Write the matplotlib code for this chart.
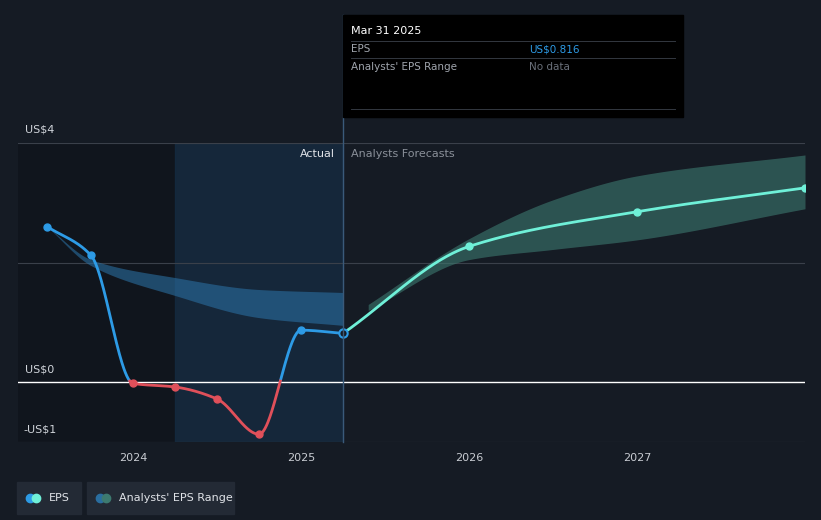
import numpy as np
import matplotlib.pyplot as plt
from matplotlib.patches import Rectangle

eps_t = [2023.49, 2023.75, 2024.0, 2024.25, 2024.5, 2024.75, 2025.0, 2025.25]
eps_v = [2.6, 2.12, -0.02, -0.08, -0.28, -0.87, 0.87, 0.816]
fc_t = [2025.25, 2026.0, 2027.0, 2028.0]
fc_v = [0.816, 2.27, 2.85, 3.25]
past_rng_t = [2023.49, 2023.75, 2024.25, 2024.75, 2025.25]
past_hi = [2.6, 2.05, 1.75, 1.55, 1.5]
past_lo = [2.6, 1.95, 1.45, 1.08, 0.95]
fc_rng_t = [2025.4, 2026.0, 2026.5, 2027.0, 2028.0]
fc_hi = [1.3, 2.4, 3.05, 3.45, 3.8]
fc_lo = [1.2, 2.05, 2.22, 2.38, 2.9]

def pchip(x, y, xn):
    x = np.asarray(x, float); y = np.asarray(y, float)
    h = np.diff(x); d = np.diff(y) / h
    m = np.zeros_like(y)
    for k in range(1, len(y) - 1):
        if d[k-1] * d[k] > 0:
            w1 = 2*h[k] + h[k-1]; w2 = h[k] + 2*h[k-1]
            m[k] = (w1 + w2) / (w1/d[k-1] + w2/d[k])
    m[0] = d[0]; m[-1] = d[-1]
    out = np.empty_like(xn)
    for i, xv in enumerate(xn):
        k = min(max(np.searchsorted(x, xv) - 1, 0), len(x) - 2)
        t = (xv - x[k]) / h[k]
        h00 = 2*t**3 - 3*t**2 + 1; h10 = t**3 - 2*t**2 + t
        h01 = -2*t**3 + 3*t**2; h11 = t**3 - t**2
        out[i] = h00*y[k] + h10*h[k]*m[k] + h01*y[k+1] + h11*h[k]*m[k+1]
    return out

bg = '#151b24'
fig = plt.figure(figsize=(8.21, 5.2), dpi=100, facecolor=bg)
ax = fig.add_axes([18/821, 1-442/520, 787/821, 299/520])
ax.set_facecolor(bg)
x0 = 2024 - (133-18)/168
x1 = 2024 + (805-133)/168
ax.set_xlim(x0, x1)
ax.set_ylim(-1, 4)

ax.axvspan(x0, 2024.25, color='#10151d', zorder=0)
ax.axvspan(2024.25, 2025.25, color='#15304a', alpha=0.6, zorder=0)
for yv in [2, 4]:
    ax.axhline(yv, color='#3a404a', lw=0.8, zorder=1)
ax.axhline(0, color='#ffffff', lw=1, zorder=1)
ax.axhline(-1, color='#3a404a', lw=0.8, zorder=1)
fig.add_artist(plt.Line2D([343/821]*2, [1-442/520, 1-15/520], color='#3a5a7a', lw=1, zorder=1))

tt = np.linspace(past_rng_t[0], past_rng_t[-1], 200)
ax.fill_between(tt, pchip(past_rng_t, past_lo, tt), pchip(past_rng_t, past_hi, tt),
                color='#2a6ea0', alpha=0.6, lw=0, zorder=2)
tf = np.linspace(fc_rng_t[0], fc_rng_t[-1], 200)
ax.fill_between(tf, pchip(fc_rng_t, fc_lo, tf), pchip(fc_rng_t, fc_hi, tf),
                color='#3d7a70', alpha=0.6, lw=0, zorder=2)

te = np.linspace(eps_t[0], eps_t[-1], 600)
ve = pchip(eps_t, eps_v, te)
pos = np.where(ve >= 0, ve, np.nan)
neg = np.where(ve <= 0.02, ve, np.nan)
ax.plot(te, pos, color='#2d9be6', lw=2, zorder=3)
ax.plot(te, neg, color='#e0505a', lw=2, zorder=3)
for t, v in zip(eps_t[:-1], eps_v[:-1]):
    c = '#2d9be6' if v > 0 else '#e0505a'
    ax.plot(t, v, 'o', color='#2d9be6' if v > 0.5 else c, ms=5, zorder=4)
ax.plot(eps_t[-1], eps_v[-1], 'o', color=bg, mec='#2d9be6', mew=1.5, ms=6, zorder=5)

tfc = np.linspace(fc_t[0], fc_t[-1], 300)
ax.plot(tfc, pchip(fc_t, fc_v, tfc), color='#6ff0d8', lw=2, zorder=3)
ax.plot(fc_t[1:], fc_v[1:], 'o', color='#6ff0d8', ms=5, zorder=4)

for s in ax.spines.values():
    s.set_visible(False)
ax.set_yticks([])
ax.set_xticks([2024, 2025, 2026, 2027])
ax.set_xticklabels(['2024', '2025', '2026', '2027'])
ax.tick_params(axis='x', colors='#c8ccd2', labelsize=8, length=0, pad=8)

fig.text(25/821, 1-370/520, 'US$0', color='#d0d4da', fontsize=8, va='center')
fig.text(25/821, 1-130/520, 'US$4', color='#d0d4da', fontsize=8, va='center')
fig.text(23/821, 1-430/520, '-US$1', color='#d0d4da', fontsize=8, va='center')
fig.text(335/821, 1-154/520, 'Actual', color='#e0e3e8', fontsize=8, ha='right', va='center')
fig.text(351/821, 1-154/520, 'Analysts Forecasts', color='#8a9099', fontsize=8, ha='left', va='center')

# tooltip
fig.patches.append(Rectangle((343/821, 1-117/520), 340/821, 102/520, transform=fig.transFigure,
                             color='#000000', zorder=10))
fig.text(351/821, 1-31/520, 'Mar 31 2025', color='#ffffff', fontsize=8, va='center', zorder=11)
fig.text(351/821, 1-49/520, 'EPS', color='#a0a5ad', fontsize=7.5, va='center', zorder=11)
fig.text(529/821, 1-49/520, 'US$0.816', color='#2d9be6', fontsize=7.5, va='center', zorder=11)
fig.text(351/821, 1-67/520, "Analysts' EPS Range", color='#a0a5ad', fontsize=7.5, va='center', zorder=11)
fig.text(529/821, 1-67/520, 'No data', color='#6a707a', fontsize=7.5, va='center', zorder=11)
for yy in [41, 58, 109]:
    fig.add_artist(plt.Line2D([351/821, 675/821], [1-yy/520]*2, color='#333840', lw=0.7, zorder=11))

# legend
for (lx, w, lab, c1, c2) in [(17, 64, 'EPS', '#2d9be6', '#6ff0d8'),
                             (87, 147, "Analysts' EPS Range", '#2a6ea0', '#3d7a70')]:
    fig.patches.append(Rectangle((lx/821, 1-514/520), w/821, 32/520, transform=fig.transFigure,
                                 color='#232a35', zorder=1))
    fig.add_artist(plt.Line2D([(lx+13)/821], [1-498/520], marker='o', color=c1, ms=6, lw=0))
    fig.add_artist(plt.Line2D([(lx+19)/821], [1-498/520], marker='o', color=c2, ms=6, lw=0))
    fig.text((lx+32)/821, 1-498/520, lab, color='#e0e3e8', fontsize=8, va='center')

fig.savefig('out.png', dpi=100, facecolor=bg)
